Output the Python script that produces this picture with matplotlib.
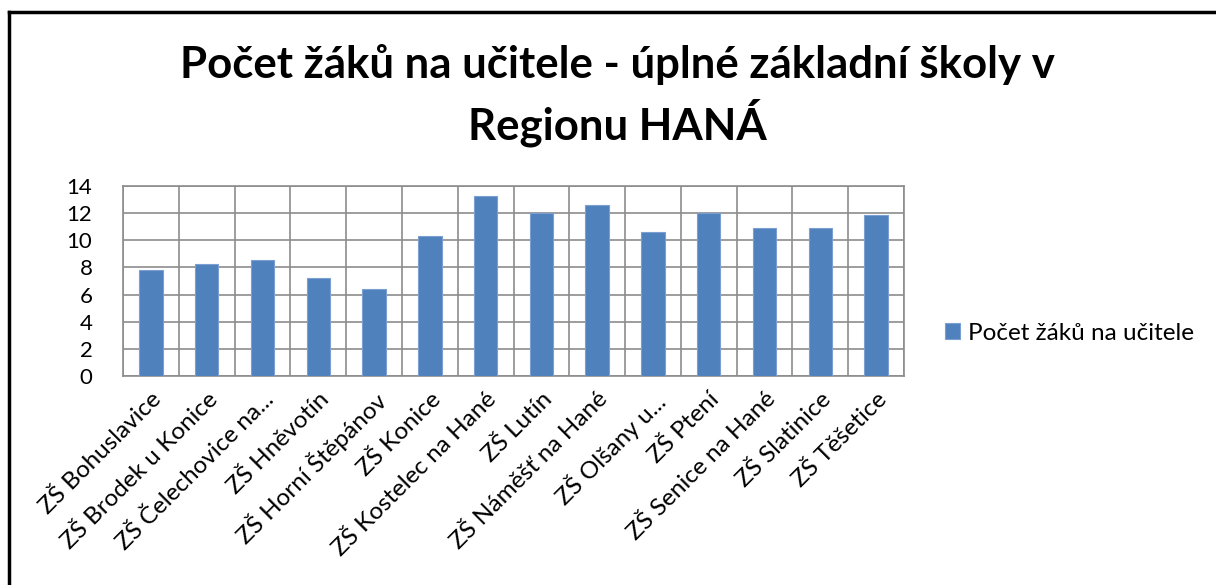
import matplotlib
matplotlib.use("Agg")
import matplotlib.pyplot as plt
import numpy as np

categories = ["ZŠ Bohuslavice", "ZŠ Brodek u Konice", "ZŠ Čelechovice na...",
              "ZŠ Hněvotín", "ZŠ Horní Štěpánov", "ZŠ Konice",
              "ZŠ Kostelec na Hané", "ZŠ Lutín", "ZŠ Náměšť na Hané",
              "ZŠ Olšany u...", "ZŠ Ptení", "ZŠ Senice na Hané",
              "ZŠ Slatinice", "ZŠ Těšetice"]
values = [7.8, 8.25, 8.55, 7.2, 6.4, 10.3, 13.25, 12.0, 12.6, 10.6, 12.0, 10.9, 10.9, 11.85]
series_name = "Počet žáků na učitele"
title = "Počet žáků na učitele - úplné základní školy v\nRegionu HANÁ"
yticks = [0, 2, 4, 6, 8, 10, 12, 14]

plt.rcParams['font.family'] = ['Lato', 'DejaVu Sans']

W, H = 1216, 585
fig = plt.figure(figsize=(W / 100, H / 100), dpi=100)

# chart frame (top and left border visible)
fig.add_artist(plt.Line2D([9 / W, 9 / W], [0, 1 - 12 / H], color="black", lw=2.5, transform=fig.transFigure))
fig.add_artist(plt.Line2D([9 / W, 1], [1 - 12 / H, 1 - 12 / H], color="black", lw=2.5, transform=fig.transFigure))

ax = fig.add_axes([123 / W, 1 - 376 / H, (904 - 123) / W, (376 - 186) / H])
x = np.arange(len(categories))
ax.bar(x, values, width=0.42, color="#4F81BD", edgecolor="#7A9FD0", linewidth=0.8,
       label=series_name, zorder=3)
ax.set_xlim(-0.5, len(categories) - 0.5)
ax.set_ylim(0, 14)
ax.set_yticks(yticks)
ax.set_yticklabels([str(v) for v in yticks], fontsize=16)
ax.set_xticks(x)
ax.set_xticklabels(categories, rotation=45, ha="right", rotation_mode="anchor", fontsize=17.5)
ax.tick_params(axis="x", length=0, pad=9)
ax.tick_params(axis="y", length=0, pad=22)
for b in np.arange(-0.5, len(categories), 1.0):
    ax.axvline(b, color="#8C8C8C", lw=1.2, zorder=1)
for v in yticks:
    ax.axhline(v, color="#8C8C8C", lw=1.2, zorder=1)
for s in ax.spines.values():
    s.set_color("#8C8C8C")
    s.set_linewidth(1.2)

fig.text(617 / W, 1 - 44 / H, title, ha="center", va="top", fontsize=31.5, fontweight="bold",
         linespacing=1.32)

leg = fig.legend(loc="center left", bbox_to_anchor=(945 / W, 1 - 333 / H), frameon=False,
                 fontsize=17.5, handlelength=0.6, handleheight=0.6, handletextpad=0.35,
                 borderaxespad=0, borderpad=0)

fig.savefig("out.png", dpi=100)
